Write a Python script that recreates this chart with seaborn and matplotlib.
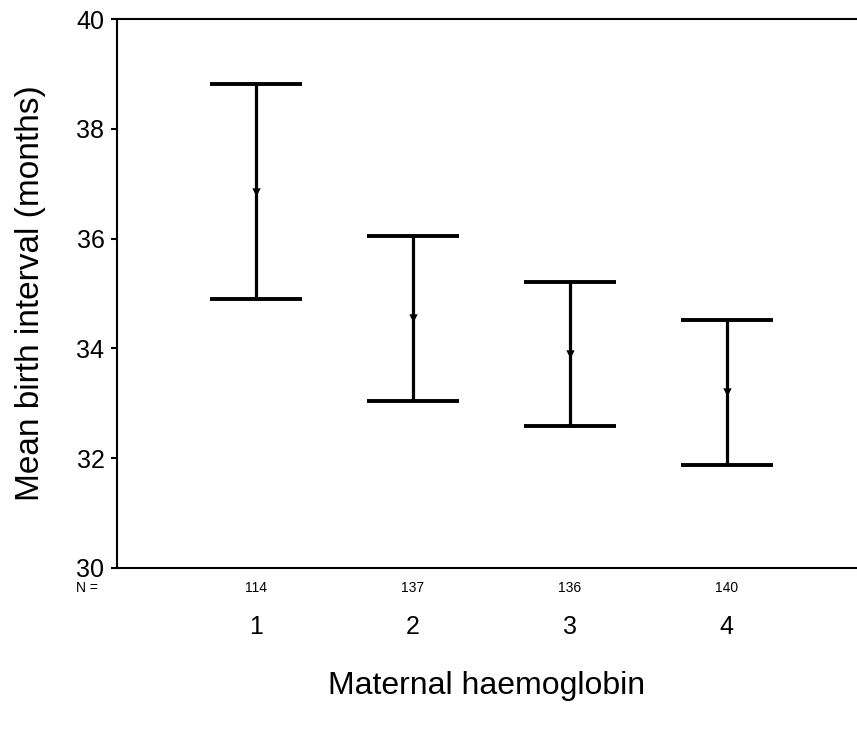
import matplotlib
matplotlib.use("Agg")

import matplotlib.pyplot as plt
import matplotlib.transforms as mtransforms
import numpy as np
import pandas as pd
import seaborn as sns

# Summary data
groups = [1, 2, 3, 4]
n_counts = [114, 137, 136, 140]
means = [36.85, 34.55, 33.90, 33.20]
upper = [38.82, 36.05, 35.21, 34.52]
lower = [34.90, 33.04, 32.59, 31.88]

sns.set_theme(style="white")
plt.rcParams["font.family"] = ["Liberation Sans", "DejaVu Sans"]
plt.rcParams["text.color"] = "black"
plt.rcParams["axes.labelcolor"] = "black"

df = pd.DataFrame({"group": groups, "mean": means, "upper": upper, "lower": lower})

fig = plt.figure(figsize=(8.57, 7.31), dpi=100)
ax = fig.add_axes([0.1365, 0.223, 0.8635, 0.751])

err = np.vstack([df["mean"] - df["lower"], df["upper"] - df["mean"]])
ax.errorbar(df["group"], df["mean"], yerr=err, fmt="none", ecolor="black",
            elinewidth=2.3, capsize=33, capthick=2.8, zorder=2)
sns.scatterplot(data=df, x="group", y="mean", marker="v", s=36, color="black",
                edgecolor="black", linewidth=0, ax=ax, zorder=3, legend=False)

ax.set_xlim(0.115, 4.83)
ax.set_ylim(30, 40)
ax.set_yticks([30, 32, 34, 36, 38, 40])
ax.set_xticks(groups)
ax.set_xticklabels([str(g) for g in groups], fontsize=18)
ax.tick_params(axis="x", length=3, width=1, pad=31, colors="black")
ax.tick_params(axis="y", length=4, width=1.5, pad=5, labelsize=18, colors="black", left=True)

for side in ["left", "bottom", "top"]:
    ax.spines[side].set_color("black")
    ax.spines[side].set_linewidth(1.5)
ax.spines["right"].set_visible(False)

# N counts below axis
trans = mtransforms.blended_transform_factory(ax.transData, ax.transAxes)
for g, n in zip(groups, n_counts):
    ax.text(g, -0.037, str(n), transform=trans, ha="center", va="center", fontsize=10)
ax.text(-0.04, -0.037, "N =", transform=ax.transAxes, ha="center", va="center", fontsize=10)

ax.set_xlabel("Maternal haemoglobin", fontsize=23, labelpad=23)
ax.set_ylabel("Mean birth interval (months)", fontsize=24, labelpad=22)

fig.savefig("out.png", dpi=100)
plt.close(fig)
